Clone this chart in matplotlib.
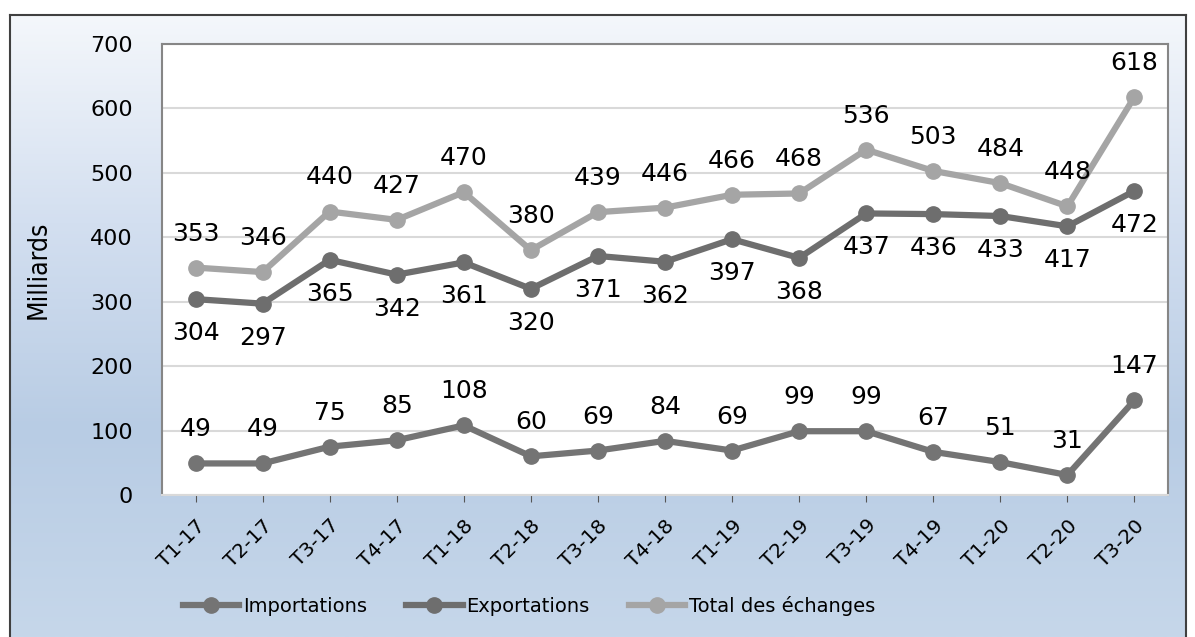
import matplotlib
matplotlib.use("Agg")
import matplotlib.pyplot as plt
import numpy as np
from matplotlib.colors import LinearSegmentedColormap
from matplotlib import font_manager

categories = ["T1-17", "T2-17", "T3-17", "T4-17", "T1-18", "T2-18", "T3-18", "T4-18",
              "T1-19", "T2-19", "T3-19", "T4-19", "T1-20", "T2-20", "T3-20"]
importations = [49, 49, 75, 85, 108, 60, 69, 84, 69, 99, 99, 67, 51, 31, 147]
exportations = [304, 297, 365, 342, 361, 320, 371, 362, 397, 368, 437, 436, 433, 417, 472]
total = [353, 346, 440, 427, 470, 380, 439, 446, 466, 468, 536, 503, 484, 448, 618]
y_ticks = [0, 100, 200, 300, 400, 500, 600, 700]

W, H = 1195, 637
fig = plt.figure(figsize=(W / 100, H / 100), dpi=100)
fig.patch.set_facecolor("white")

# gradient background frame
bg = fig.add_axes([10 / W, 0, (1186 - 10) / W, (H - 15) / H])
grad = np.linspace(0, 1, 256).reshape(-1, 1)
cmap = LinearSegmentedColormap.from_list("g", ["#f4f7fb", "#d3dff0", "#b8cce4", "#c6d7ea"])
bg.imshow(grad, aspect="auto", cmap=cmap, extent=[0, 1, 0, 1], origin="upper")
bg.set_xlim(0, 1); bg.set_ylim(0, 1)
bg.set_xticks([]); bg.set_yticks([])
for s in bg.spines.values():
    s.set_color("#404040"); s.set_linewidth(1.5)
bg.spines["bottom"].set_visible(False)
bg.set_zorder(0)

left, right, top, bottom = 162, 1168, 44, 495
ax = fig.add_axes([left / W, 1 - bottom / H, (right - left) / W, (bottom - top) / H])
ax.set_zorder(1)
ax.set_facecolor("white")
x = np.arange(len(categories))

dark = "#747474"
light = "#a5a5a5"
lw = 4.5
ms = 11
ax.plot(x, importations, color=dark, lw=lw, marker="o", ms=ms, label="Importations", zorder=3)
ax.plot(x, exportations, color="#6e6e6e", lw=lw, marker="o", ms=ms, label="Exportations", zorder=3)
ax.plot(x, total, color=light, lw=lw, marker="o", ms=ms, label="Total des échanges", zorder=3)

fs = 18
off = 24.5
for xi, v in zip(x, importations):
    ax.annotate(str(v), (xi, v), xytext=(0, off), textcoords="offset points",
                ha="center", va="center", fontsize=fs, color="black")
for xi, v in zip(x, exportations):
    ax.annotate(str(v), (xi, v), xytext=(0, -off), textcoords="offset points",
                ha="center", va="center", fontsize=fs, color="black")
for xi, v in zip(x, total):
    ax.annotate(str(v), (xi, v), xytext=(0, off), textcoords="offset points",
                ha="center", va="center", fontsize=fs, color="black")

ax.set_xlim(-0.5, len(categories) - 0.5)
ax.set_ylim(0, 700)
ax.set_yticks(y_ticks)
ax.set_yticklabels([str(t) for t in y_ticks], fontsize=16)
ax.tick_params(axis="y", length=0, pad=21)
ax.set_xticks(x)
ax.set_xticklabels(categories, rotation=45, ha="right", rotation_mode="anchor", fontsize=14.5)
ax.tick_params(axis="x", length=5, color="#555555", pad=10)
ax.grid(axis="y", color="#d9d9d9", lw=1.5, zorder=0)
ax.set_axisbelow(True)
for name, s in ax.spines.items():
    s.set_color("#868686"); s.set_linewidth(1.5)
ax.spines["bottom"].set_color("#d9d9d9")

names = {f.name for f in font_manager.fontManager.ttflist}
if "Liberation Sans Narrow" in names:
    ax.set_ylabel("Milliards", fontsize=20, family=["Liberation Sans Narrow", "DejaVu Sans"])
else:
    ax.set_ylabel("Milliards", fontsize=19, family=["DejaVu Sans"], fontstretch="condensed")
ax.yaxis.set_label_coords((52 - left) / (right - left), 0.5)

leg = ax.legend(loc="center", bbox_to_anchor=((529 - left) / (right - left), -(606 - bottom) / (bottom - top)),
                ncol=3, frameon=False, fontsize=14, handlelength=2.9, handletextpad=0.2,
                columnspacing=2.0)

fig.savefig("out.png", dpi=100)
